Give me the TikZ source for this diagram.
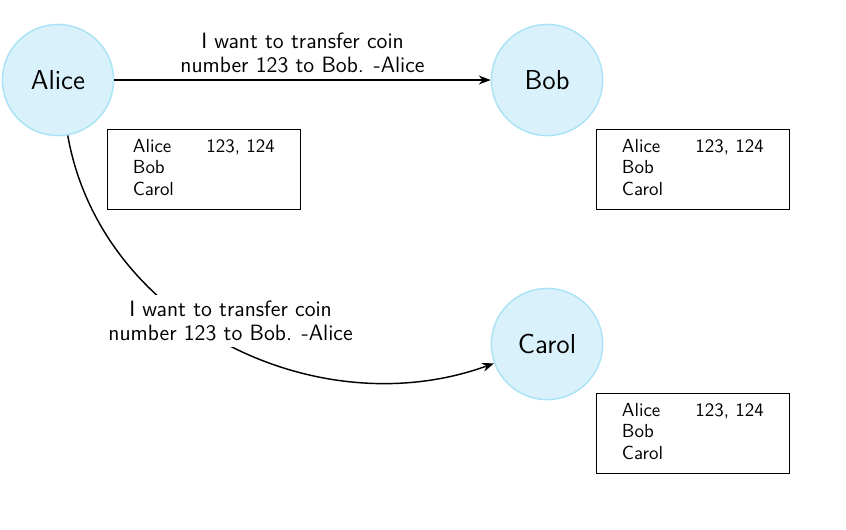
\documentclass[tikz,border=0pt]{standalone}
\usepackage{tikz}
\usetikzlibrary{arrows.meta,positioning}
\usepackage{xcolor}
\definecolor{peerfill}{RGB}{217,241,250}
\definecolor{peerline}{RGB}{170,226,246}

\newcommand{\ledgertable}{%
  \begin{tabular}{@{}l@{\hspace{18pt}}l@{}}
    Alice & 123, 124\\
    Bob & \\
    Carol &
  \end{tabular}}

\begin{document}
\begin{tikzpicture}[
        font=\sffamily,
        person/.style={circle, fill=peerfill, draw=peerline, thick, minimum size=2.17cm, inner sep=0pt, font=\sffamily\fontsize{15.2}{18}\selectfont},
        ledger/.style={draw, minimum width=3.76cm, minimum height=1.56cm, inner sep=0pt, font=\sffamily\fontsize{10.5}{12}\selectfont},
        arrow/.style={-Stealth, thick},
        msg/.style={align=center, font=\sffamily\fontsize{12.3}{13.6}\selectfont}
    ]
        \useasboundingbox (0,0) rectangle (16.5,10.318);

        % Participants
        \node[person] (Alice) at (1.131, 8.757) {Alice};
        \node[person] (Bob) at (10.669, 8.757) {Bob};
        \node[person] (Carol) at (10.669, 3.608) {Carol};

        % Ledgers
        \node[ledger, below right=0.18cm and 0.18cm of Alice] (LA) {\ledgertable};
        \node[ledger, below right=0.18cm and 0.18cm of Bob] (LB) {\ledgertable};
        \node[ledger, below right=0.18cm and 0.18cm of Carol] (LC) {\ledgertable};

        % Messages
        \draw[arrow] (Alice) -- (Bob) node[msg, midway, above] {I want to transfer coin\\number 123 to Bob. -Alice};
        \draw[arrow] (Alice) to[out=-80, in=200] node[msg, pos=0.42, xshift=0.8cm, fill=white] {I want to transfer coin\\number 123 to Bob. -Alice} (Carol);

    \end{tikzpicture}
\end{document}
